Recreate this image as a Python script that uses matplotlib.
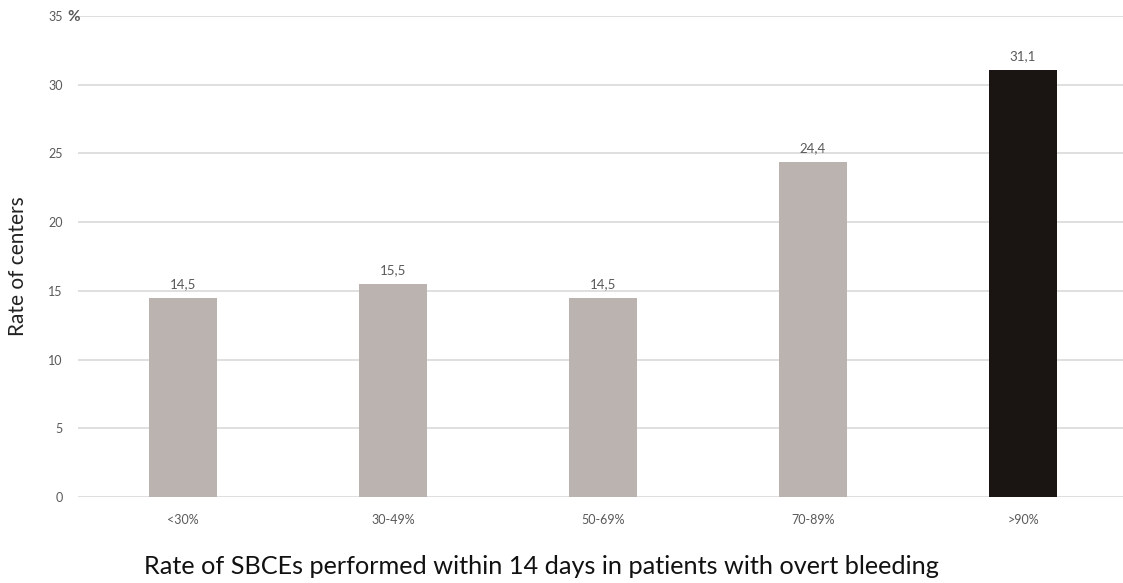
import matplotlib.pyplot as plt

plt.rcParams['font.family'] = ['Lato', 'DejaVu Sans']

# data
categories = ['<30%', '30-49%', '50-69%', '70-89%', '>90%']
values = [14.5, 15.5, 14.5, 24.4, 31.1]
value_labels = ['14,5', '15,5', '14,5', '24,4', '31,1']
bar_colors = ['#bab3b0', '#bab3b0', '#bab3b0', '#bab3b0', '#1a1513']
y_ticks = [0, 5, 10, 15, 20, 25, 30, 35]

fig = plt.figure(figsize=(11.23, 5.83), dpi=100)
ax = fig.add_axes([0.0695, 0.1475, 0.935, 0.825])

x = range(len(categories))
ax.bar(x, values, width=0.32, color=bar_colors, zorder=3)

for xi, v, lab in zip(x, values, value_labels):
    ax.text(xi, v + 0.55, lab, ha='center', va='bottom', fontsize=9.5, color='#595959')

ax.set_xlim(-0.5, 4.5)
ax.set_ylim(0, 35)
ax.set_yticks(y_ticks)
ax.set_yticklabels([str(t) for t in y_ticks])
ax.set_xticks(list(x))
ax.set_xticklabels(categories)
ax.tick_params(axis='both', length=0, labelsize=9, labelcolor='#595959')
ax.tick_params(axis='y', pad=11)
ax.tick_params(axis='x', pad=12)
ax.yaxis.grid(True, color='#d9d9d9', linewidth=1.2, zorder=0)
for s in ax.spines.values():
    s.set_visible(False)

# bold percent sign next to the top tick
fig.text(67 / 1123, 1 - 17 / 583, '%', fontsize=11, fontweight='bold', color='#595959',
         ha='left', va='center')

fig.text(18 / 1123, 1 - 266 / 583, 'Rate of centers', rotation=90, fontsize=15,
         color='#222222', ha='center', va='center')
fig.text(541 / 1123, 1 - 567 / 583,
         'Rate of SBCEs performed within 14 days in patients with overt bleeding',
         ha='center', va='center', fontsize=18.2, color='#111111')

plt.savefig('out.png', dpi=100)
